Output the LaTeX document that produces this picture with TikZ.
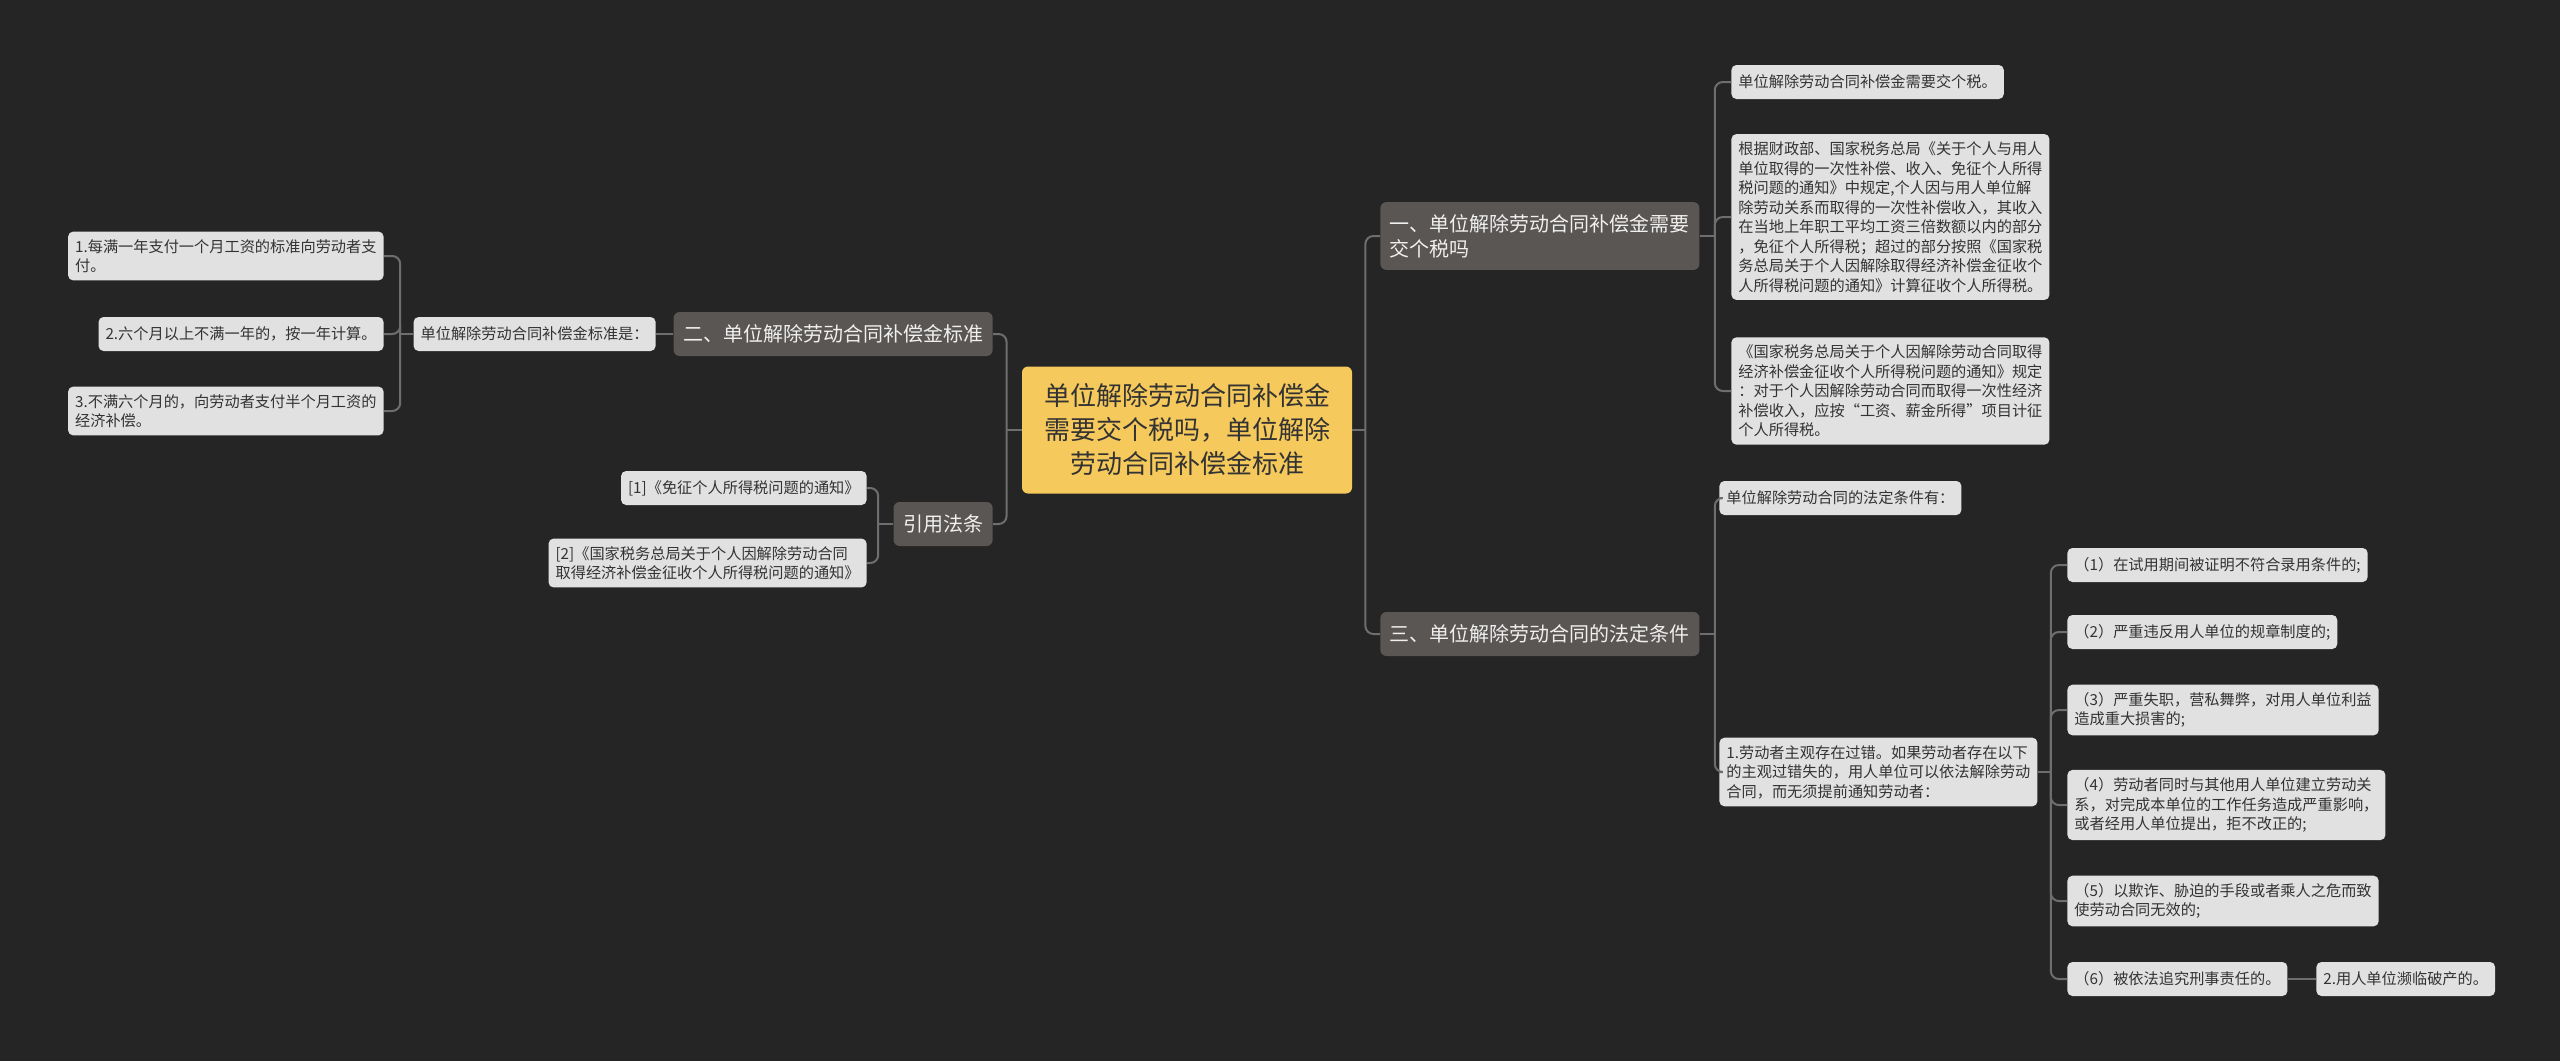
\documentclass[tikz,border=0pt]{standalone}
\usepackage{fontspec}
\setmainfont{Noto Sans CJK SC}
\usepackage{xcolor}
\usetikzlibrary{calc, positioning}
\definecolor{bgc}{HTML}{252525}
\definecolor{linkc}{HTML}{6E6E6E}
\definecolor{mainc}{HTML}{5A5653}
\definecolor{leafc}{HTML}{E1E1E1}
\definecolor{rootc}{HTML}{F5C95B}
\definecolor{inkc}{HTML}{333333}

\begin{document}
\begin{tikzpicture}[x=0.5pt, y=-0.5pt,
  rootbox/.style={fill=rootc, text=inkc, rounded corners=3pt, align=center,
    font=\fontsize{13}{17}\selectfont, minimum width=165pt, minimum height=63.5pt, inner sep=0pt},
  mainbox/.style={fill=mainc, text=white!94!black, rounded corners=3pt, align=left,
    font=\fontsize{10}{12.6}\selectfont, inner xsep=4.75pt, inner ysep=6pt, minimum height=22pt},
  leafbox/.style={fill=leafc, text=inkc, rounded corners=2.5pt, align=left,
    font=\fontsize{7.6}{9.75}\selectfont, inner xsep=3.5pt, inner ysep=3.8pt, minimum height=17pt},
  link/.style={draw=linkc, line width=1pt, rounded corners=4pt}]
\fill[bgc] (0,0) rectangle (2560,1061);
\useasboundingbox (0,0) rectangle (2560,1061);

\node[rootbox] (root) at (1187,430) {单位解除劳动合同补偿金\\需要交个税吗，单位解除\\劳动合同补偿金标准};

\node[mainbox, anchor=west] (one) at (1380,236) {一、单位解除劳动合同补偿金需要\\交个税吗};
\node[mainbox, anchor=west] (three) at (1380,634) {三、单位解除劳动合同的法定条件};
\node[mainbox, anchor=east] (two) at (993,334) {二、单位解除劳动合同补偿金标准};
\node[mainbox, anchor=east] (cite) at (993,524) {引用法条};

\node[leafbox, anchor=east] (std) at (656,334) {单位解除劳动合同补偿金标准是：};
\node[leafbox, anchor=east] (c1) at (384,256) {1.每满一年支付一个月工资的标准向劳动者支\\付。};
\node[leafbox, anchor=east] (c2) at (384,334) {2.六个月以上不满一年的，按一年计算。};
\node[leafbox, anchor=east] (c3) at (384,411) {3.不满六个月的，向劳动者支付半个月工资的\\经济补偿。};

\node[leafbox, anchor=east] (law1) at (867,488) {[1]《免征个人所得税问题的通知》};
\node[leafbox, anchor=east] (law2) at (867,563) {[2]《国家税务总局关于个人因解除劳动合同\\取得经济补偿金征收个人所得税问题的通知》};

\node[leafbox, anchor=west] (r1) at (1731,82) {单位解除劳动合同补偿金需要交个税。};
\node[leafbox, anchor=west] (r2) at (1731,217) {根据财政部、国家税务总局《关于个人与用人\\单位取得的一次性补偿、收入、免征个人所得\\税问题的通知》中规定,个人因与用人单位解\\除劳动关系而取得的一次性补偿收入，其收入\\在当地上年职工平均工资三倍数额以内的部分\\，免征个人所得税；超过的部分按照《国家税\\务总局关于个人因解除取得经济补偿金征收个\\人所得税问题的通知》计算征收个人所得税。};
\node[leafbox, anchor=west] (r3) at (1731,391) {《国家税务总局关于个人因解除劳动合同取得\\经济补偿金征收个人所得税问题的通知》规定\\：对于个人因解除劳动合同而取得一次性经济\\补偿收入，应按“工资、薪金所得”项目计征\\个人所得税。};

\node[leafbox, anchor=west] (t1) at (1719,498) {单位解除劳动合同的法定条件有：};
\node[leafbox, anchor=west] (t2) at (1719,772) {1.劳动者主观存在过错。如果劳动者存在以下\\的主观过错失的，用人单位可以依法解除劳动\\合同，而无须提前通知劳动者：};

\node[leafbox, anchor=west] (k1) at (2067,565) {（1）在试用期间被证明不符合录用条件的;};
\node[leafbox, anchor=west] (k2) at (2067,632) {（2）严重违反用人单位的规章制度的;};
\node[leafbox, anchor=west] (k3) at (2067,710) {（3）严重失职，营私舞弊，对用人单位利益\\造成重大损害的;};
\node[leafbox, anchor=west] (k4) at (2067,805) {（4）劳动者同时与其他用人单位建立劳动关\\系，对完成本单位的工作任务造成严重影响，\\或者经用人单位提出，拒不改正的;};
\node[leafbox, anchor=west] (k5) at (2067,901) {（5）以欺诈、胁迫的手段或者乘人之危而致\\使劳动合同无效的;};
\node[leafbox, anchor=west] (k6) at (2067,979) {（6）被依法追究刑事责任的。};
\node[leafbox, anchor=west] (k7) at (2316,979) {2.用人单位濒临破产的。};

\draw[link] (root.east) -- ++(13,0);
\foreach \c in {one,three} \draw[link] (root.east) ++(13,0) |- (\c.west);
\draw[link] (root.west) -- ++(-15,0);
\foreach \c in {two,cite} \draw[link] (root.west) ++(-15,0) |- (\c.east);

\draw[link] (two.west) -- (std.east);
\draw[link] (std.west) -- ++(-13,0);
\foreach \c in {c1,c2,c3} \draw[link] (std.west) ++(-13,0) |- (\c.east);

\draw[link] (cite.west) -- ++(-15,0);
\foreach \c in {law1,law2} \draw[link] (cite.west) ++(-15,0) |- (\c.east);

\draw[link] (one.east) -- ++(15,0);
\foreach \c in {r1,r2,r3} \draw[link] (one.east) ++(15,0) |- (\c.west);

\draw[link] (three.east) -- ++(15,0);
\foreach \c in {t1,t2} \draw[link] (three.east) ++(15,0) |- (\c.west);

\draw[link] (t2.east) -- ++(13,0);
\foreach \c in {k1,k2,k3,k4,k5,k6} \draw[link] (t2.east) ++(13,0) |- (\c.west);
\draw[link] (k6.east) -- (k7.west);
\end{tikzpicture}
\end{document}
